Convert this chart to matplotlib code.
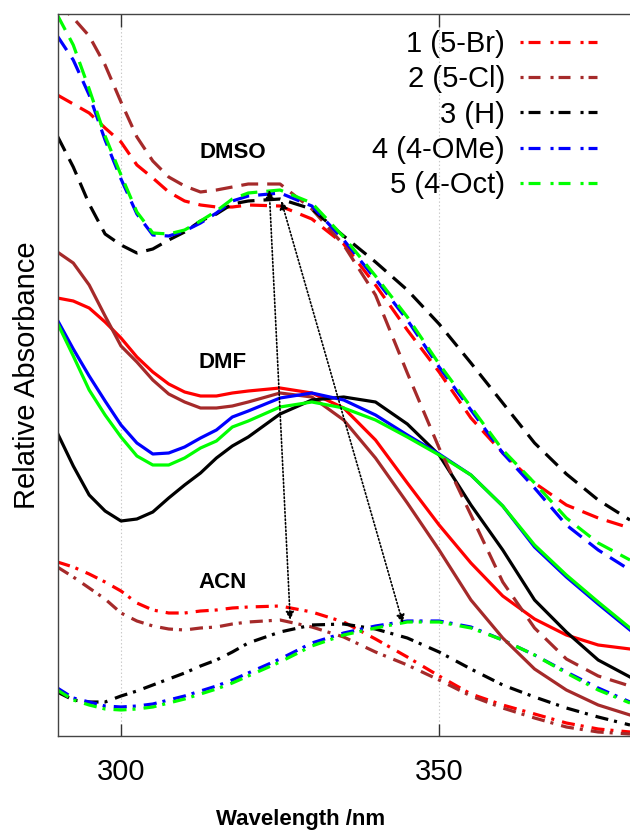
import numpy as np
import matplotlib
matplotlib.use("Agg")
import matplotlib.pyplot as plt
from matplotlib.lines import Line2D

# 字体设置
plt.rcParams["font.family"] = ["Liberation Sans", "DejaVu Sans"]
plt.rcParams["lines.scale_dashes"] = False

# 波长 (nm)
wl = [290, 292.5, 295, 297.5, 300, 302.5, 305, 307.5, 310, 312.5, 315, 317.5,
      320, 325, 330, 335, 340, 345, 350, 355, 360, 365, 370, 375, 380]

labels = ["1 (5-Br)", "2 (5-Cl)", "3 (H)", "4 (4-OMe)", "5 (4-Oct)"]
colors = ["#ff0000", "#a52a2a", "#000000", "#0000ff", "#00ff00"]

# DMSO (dashed)
dmso_br = [6.41, 6.32, 6.23, 6.08, 5.94, 5.71, 5.58, 5.44, 5.35, 5.31, 5.29, 5.29,
           5.31, 5.30, 5.17, 4.92, 4.51, 4.06, 3.64, 3.18, 2.83, 2.53, 2.31, 2.18, 2.08]
dmso_cl = [7.33, 7.18, 7.00, 6.71, 6.34, 5.99, 5.75, 5.59, 5.50, 5.44, 5.46, 5.49,
           5.52, 5.52, 5.27, 4.91, 4.41, 3.63, 2.88, 2.21, 1.54, 1.08, 0.77, 0.60, 0.50]
dmso_h = [6.00, 5.69, 5.32, 5.02, 4.91, 4.83, 4.87, 4.96, 5.04, 5.15, 5.22, 5.32,
          5.35, 5.37, 5.27, 5.00, 4.74, 4.46, 4.12, 3.73, 3.33, 2.93, 2.62, 2.36, 2.16]
dmso_ome = [7.00, 6.76, 6.41, 5.96, 5.57, 5.22, 5.01, 5.00, 5.05, 5.13, 5.23, 5.35,
            5.40, 5.43, 5.30, 4.96, 4.57, 4.16, 3.69, 3.26, 2.83, 2.48, 2.11, 1.86, 1.66]
dmso_oct = [7.21, 6.91, 6.47, 6.00, 5.61, 5.24, 5.03, 5.02, 5.06, 5.15, 5.25, 5.37,
            5.43, 5.46, 5.33, 4.99, 4.60, 4.19, 3.72, 3.29, 2.86, 2.53, 2.18, 1.93, 1.76]

# DMF (solid)
dmf_br = [4.38, 4.35, 4.28, 4.14, 3.98, 3.79, 3.64, 3.52, 3.44, 3.40, 3.40, 3.43,
          3.45, 3.48, 3.43, 3.28, 2.96, 2.53, 2.11, 1.73, 1.40, 1.17, 1.01, 0.91, 0.87]
dmf_cl = [4.84, 4.73, 4.51, 4.20, 3.90, 3.74, 3.56, 3.42, 3.34, 3.28, 3.28, 3.30,
          3.34, 3.43, 3.39, 3.16, 2.78, 2.33, 1.86, 1.36, 0.98, 0.67, 0.46, 0.31, 0.21]
dmf_h = [3.03, 2.70, 2.41, 2.25, 2.15, 2.17, 2.24, 2.38, 2.51, 2.63, 2.78, 2.90,
         2.99, 3.22, 3.36, 3.39, 3.34, 3.12, 2.81, 2.31, 1.86, 1.36, 1.04, 0.76, 0.59]
dmf_ome = [4.16, 3.87, 3.60, 3.35, 3.11, 2.93, 2.82, 2.83, 2.89, 2.98, 3.06, 3.19,
           3.25, 3.38, 3.43, 3.36, 3.21, 3.01, 2.82, 2.61, 2.30, 1.89, 1.59, 1.32, 1.06]
dmf_oct = [4.13, 3.80, 3.46, 3.21, 2.99, 2.80, 2.71, 2.71, 2.78, 2.88, 2.95, 3.09,
           3.15, 3.29, 3.34, 3.28, 3.16, 2.99, 2.81, 2.61, 2.30, 1.91, 1.61, 1.34, 1.08]

# ACN (dash-dot)
acn_br = [1.74, 1.69, 1.62, 1.54, 1.45, 1.33, 1.26, 1.23, 1.23, 1.25, 1.26, 1.28,
          1.29, 1.30, 1.24, 1.14, 0.97, 0.79, 0.60, 0.42, 0.31, 0.22, 0.13, 0.07, 0.04]
acn_cl = [1.69, 1.59, 1.48, 1.37, 1.23, 1.15, 1.10, 1.07, 1.06, 1.08, 1.09, 1.12,
          1.14, 1.16, 1.09, 0.99, 0.84, 0.71, 0.56, 0.40, 0.28, 0.18, 0.09, 0.04, 0.02]
acn_h = [0.44, 0.36, 0.34, 0.34, 0.40, 0.45, 0.51, 0.57, 0.63, 0.70, 0.76, 0.84,
         0.93, 1.04, 1.11, 1.12, 1.07, 0.98, 0.84, 0.67, 0.51, 0.39, 0.28, 0.19, 0.11]
acn_ome = [0.48, 0.38, 0.34, 0.30, 0.29, 0.30, 0.32, 0.36, 0.40, 0.45, 0.50, 0.56,
           0.63, 0.77, 0.93, 1.03, 1.10, 1.15, 1.15, 1.09, 0.96, 0.81, 0.64, 0.48, 0.34]
acn_oct = [0.46, 0.36, 0.31, 0.27, 0.26, 0.27, 0.29, 0.33, 0.37, 0.42, 0.47, 0.53,
           0.60, 0.74, 0.90, 1.01, 1.08, 1.14, 1.14, 1.08, 0.96, 0.81, 0.63, 0.46, 0.33]

dmso = [dmso_br, dmso_cl, dmso_h, dmso_ome, dmso_oct]
dmf = [dmf_br, dmf_cl, dmf_h, dmf_ome, dmf_oct]
acn = [acn_br, acn_cl, acn_h, acn_ome, acn_oct]

# 线型 (points)
dash_style = (0, (12.2, 6.5))
dashdot_style = (0, (9.4, 4.3, 2.2, 5.8))
lw = 2.3

fig = plt.figure(figsize=(6.3, 8.32), dpi=100)
ax = fig.add_axes([58 / 630, 96 / 832, 572 / 630, 722 / 832])

for i in range(5):
    ax.plot(wl, acn[i], color=colors[i], lw=lw, linestyle=dashdot_style)
for i in range(5):
    ax.plot(wl, dmf[i], color=colors[i], lw=lw, linestyle="-")
for i in range(5):
    ax.plot(wl, dmso[i], color=colors[i], lw=lw, linestyle=dash_style)

# 箭头
for (x0, y0), (x1, y1) in [((323.3, 5.46), (326.6, 1.16)),
                           ((325.2, 5.35), (344.3, 1.13))]:
    ax.annotate("", xy=(x1, y1), xytext=(x0, y0),
                arrowprops=dict(arrowstyle="<|-|>", linestyle=":", lw=1.2,
                                color="black", mutation_scale=12,
                                shrinkA=0, shrinkB=0))

# 溶剂标签
ax.text(317.6, 5.84, "DMSO", fontsize=16, fontweight="bold", ha="center", va="center")
ax.text(316.0, 3.74, "DMF", fontsize=16, fontweight="bold", ha="center", va="center")
ax.text(316.0, 1.53, "ACN", fontsize=16, fontweight="bold", ha="center", va="center")

ax.set_xlim(290.1, 380)
ax.set_ylim(0, 7.22)
ax.set_xticks([300, 350])
ax.set_yticks([])
ax.tick_params(axis="x", direction="in", length=9, width=1, top=True,
               labelsize=21, pad=16, colors="#333333")
ax.tick_params(axis="x", labelcolor="black")
ax.grid(axis="x", linestyle=":", color="#c8c8c8", lw=0.8)
for side in ["left", "bottom", "top"]:
    ax.spines[side].set_color("#444444")
    ax.spines[side].set_linewidth(1)
ax.spines["right"].set_visible(False)

ax.set_ylabel("Relative Absorbance", fontsize=21, labelpad=12)
fig.text(301 / 630, 1 - 820 / 832, "Wavelength /nm", fontsize=16,
         fontweight="bold", ha="center", va="center")

# 图例
handles = [Line2D([0], [0], color=c, lw=lw, linestyle=(0, (2.2, 3.6, 8.6, 7.2)))
           for c in colors]
ax.legend(handles, labels, loc="upper right",
          bbox_to_anchor=(597 / 630, 1 - 30 / 832), bbox_transform=fig.transFigure,
          frameon=False, markerfirst=False, fontsize=21, handlelength=2.65,
          handletextpad=0.5, labelspacing=0.25, borderpad=0, borderaxespad=0)

plt.savefig("out.png", dpi=100)
